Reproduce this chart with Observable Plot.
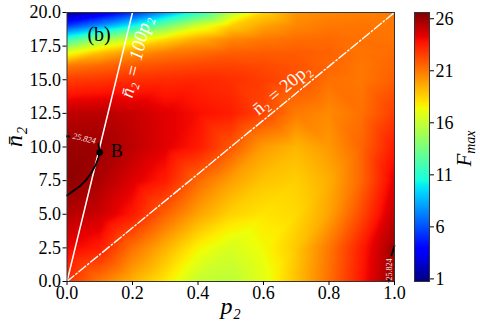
<!DOCTYPE html>
<html>
<head>
<meta charset="utf-8">
<script src="https://cdn.jsdelivr.net/npm/d3@7"></script>
<script src="https://cdn.jsdelivr.net/npm/@observablehq/plot@0.6"></script>
<style>
  body { margin: 0; background: #fff; }
  #wrap { display: flex; width: 480px; height: 328px; }
  #wrap svg { overflow: visible; }
  #wrap svg text, #wrap svg tspan { font-family: "Liberation Serif", "Times New Roman", "DejaVu Serif", serif !important; }
</style>
</head>
<body>
<div id="wrap"></div>
<script>
// ---------- data ----------
const pValues = [0, 0.1, 0.2, 0.3, 0.4, 0.5, 0.6, 0.7, 0.8, 0.9, 1.0];
const nValues = [0, 2.5, 5, 7.5, 10, 12.5, 15, 16, 17, 18, 19, 20];
// F_max estimated at (p2, n2) grid points; one row per n value
const fRows = [
  [23.0, 21.0, 19.4, 17.9, 16.0, 15.7, 16.9, 19.0, 21.2, 23.7, 26.2],
  [24.2, 23.5, 21.2, 19.4, 17.6, 16.6, 17.4, 18.8, 21.0, 23.5, 25.95],
  [25.4, 24.9, 23.6, 21.6, 19.8, 18.5, 18.0, 18.3, 19.8, 22.3, 25.1],
  [26.3, 25.6, 24.5, 23.5, 21.4, 19.9, 18.9, 18.6, 19.5, 21.5, 24.4],
  [26.0, 25.9, 25.2, 24.4, 23.6, 21.9, 20.0, 19.3, 20.1, 21.5, 23.6],
  [25.2, 25.3, 25.0, 24.4, 23.9, 23.5, 22.4, 20.9, 20.5, 21.2, 22.6],
  [22.6, 22.8, 23.0, 23.1, 23.2, 23.0, 22.6, 22.1, 21.2, 21.0, 21.7],
  [21.0, 21.5, 21.9, 22.2, 22.4, 22.5, 22.3, 22.0, 21.5, 21.0, 21.5],
  [17.0, 19.0, 20.2, 20.9, 21.3, 21.7, 21.8, 21.8, 21.6, 21.1, 21.3],
  [11.5, 14.5, 16.5, 18.3, 19.6, 20.6, 21.0, 21.3, 21.4, 21.2, 21.1],
  [ 5.5,  7.8, 10.3, 13.5, 16.5, 18.6, 19.8, 20.6, 21.0, 21.1, 21.0],
  [ 1.0,  2.8,  5.0,  8.0, 11.0, 15.5, 18.5, 20.2, 20.6, 20.8, 21.0]
];
const colorDomain = [0.75, 26.6];
const colorTicks = [1, 6, 11, 16, 21, 26];
const xTicks = [0, 0.2, 0.4, 0.6, 0.8, 1.0];
const yTicks = [0, 2.5, 5, 7.5, 10, 12.5, 15, 17.5, 20];
const refSlopes = [100, 20];              // n2 = 100 p2 , n2 = 20 p2
const refLabels = ["n\u0304\u2082 = 100p\u2082", "n\u0304\u2082 = 20p\u2082"];
const refLabelP = [0.211, 0.655];
const refLabelN = [16.7, 14.3];
const contourLevel = "25.824";
const contourSeg = [0, 0, 0, 0, 0, 0, 0, 0, 0, 1, 1, 2, 2, 3, 3, 3];
const contourP = [0, 0.02, 0.04, 0.06, 0.075, 0.088, 0.096, 0.1, 0.096, 0, 0.007, 0.982, 0.983, 0.991, 0.995, 1.0];
const contourN = [6.4, 6.75, 7.1, 7.6, 8.1, 8.7, 9.2, 9.6, 10.25, 10.8, 10.78, 0, 0.15, 1.95, 2.25, 2.65];
const contourLabelP = [0.053, 0.986];
const contourLabelN = [10.63, 0.9];
const pointB = { p: 0.1, n: 9.6, label: "B" };
const panelLabel = { p: 0.098, n: 18.35, label: "(b)" };

// ---------- helpers ----------
function jet(t) {
  t = Math.max(0, Math.min(1, t));
  const r = t < 0.35 ? 0 : t < 0.66 ? (t - 0.35) / 0.31 : t < 0.89 ? 1 : 1 - 0.5 * (t - 0.89) / 0.11;
  const g = t < 0.125 ? 0 : t < 0.375 ? (t - 0.125) / 0.25 : t < 0.64 ? 1 : t < 0.91 ? 1 - (t - 0.64) / 0.27 : 0;
  const b = t < 0.11 ? 0.5 + 0.5 * t / 0.11 : t < 0.34 ? 1 : t < 0.65 ? 1 - (t - 0.34) / 0.31 : 0;
  return `rgb(${Math.round(r * 255)},${Math.round(g * 255)},${Math.round(b * 255)})`;
}

const grid = nValues.flatMap((n, i) => pValues.map((p, j) => ({ p, n, F: fRows[i][j] })));
const refLines = refSlopes.flatMap((s, k) => [
  { k, p: 0, n: 0 },
  { k, p: Math.min(1, 20 / s), n: Math.min(1, 20 / s) * s }
]);
const contour = contourP.map((p, i) => ({ seg: contourSeg[i], p, n: contourN[i] }));

const W = 400, H = 328, mL = 66.5, mR = 6, mT = 12, mB = 47;
const frameW = W - mL - mR, frameH = H - mT - mB;
const angle = s => -Math.atan(s * (frameH / 20) / frameW) * 180 / Math.PI;
const serif = "Liberation Serif, Times New Roman, DejaVu Serif, serif";
const colorScale = { type: "linear", domain: colorDomain, interpolate: jet, clamp: true };

const refLabelData = refLabels.map((t, i) => ({ t, p: refLabelP[i], n: refLabelN[i], i }));
const contourLabelData = contourLabelP.map((p, i) => ({ p, n: contourLabelN[i], i }));

const main = Plot.plot({
  width: W, height: H,
  marginLeft: mL, marginRight: mR, marginTop: mT, marginBottom: mB,
  style: { fontFamily: serif, fontSize: "17px", color: "#000", background: "transparent", overflow: "visible" },
  x: { domain: [0, 1], label: null },
  y: { domain: [0, 20], label: null },
  color: colorScale,
  marks: [
    Plot.raster(grid, { x: "p", y: "n", fill: "F", interpolate: "barycentric", x1: 0, x2: 1, y1: 0, y2: 20 }),
    Plot.line(refLines.filter(d => d.k === 0), { x: "p", y: "n", stroke: "white", strokeWidth: 1.5 }),
    Plot.line(refLines.filter(d => d.k === 1), { x: "p", y: "n", stroke: "white", strokeWidth: 1.4, strokeDasharray: "9,2.4,1.5,2.4" }),
    Plot.line(contour, { x: "p", y: "n", z: "seg", stroke: "black", strokeWidth: 1.8 }),
    Plot.text(contourLabelData.filter(d => d.i === 0), { x: "p", y: "n", text: () => contourLevel, rotate: 13, fontSize: 8.5, fontStyle: "italic", fill: "#f4e8e8" }),
    Plot.text(contourLabelData.filter(d => d.i === 1), { x: "p", y: "n", text: () => contourLevel, rotate: -90, fontSize: 8, fill: "#f4e8e8" }),
    Plot.text(refLabelData.filter(d => d.i === 0), { x: "p", y: "n", text: "t", rotate: angle(refSlopes[0]), fontSize: 19, fontStyle: "italic", fill: "white" }),
    Plot.text(refLabelData.filter(d => d.i === 1), { x: "p", y: "n", text: "t", rotate: angle(refSlopes[1]), fontSize: 18.5, fill: "white" }),
    Plot.dot([pointB], { x: "p", y: "n", r: 3.3, fill: "black" }),
    Plot.text([pointB], { x: "p", y: "n", text: "label", dx: 11, dy: -1, textAnchor: "start", fontSize: 18, fill: "black" }),
    Plot.text([panelLabel], { x: "p", y: "n", text: "label", fontSize: 20, fill: "black" }),
    Plot.frame({ stroke: "#333", strokeWidth: 1 }),
    Plot.axisX({ ticks: xTicks, tickFormat: d3.format(".1f"), tickSize: 4, tickPadding: 1, fontSize: 18, label: null }),
    Plot.axisY({ ticks: yTicks, tickFormat: d3.format(".1f"), tickSize: 4, tickPadding: 2, fontSize: 18, label: null }),
    Plot.text(["p\u2082"], { text: d => d, frameAnchor: "bottom", dy: 32, fontSize: 24, fontStyle: "italic" }),
    Plot.text(["n\u0304\u2082"], { text: d => d, frameAnchor: "left", dx: -53, rotate: -90, fontSize: 24, fontStyle: "italic" })
  ]
});

const cb = Plot.plot({
  width: 80, height: H,
  marginLeft: 14, marginRight: 51, marginTop: mT, marginBottom: mB,
  style: { fontFamily: serif, fontSize: "17px", color: "#000", background: "transparent", overflow: "visible" },
  x: { domain: [0, 1], axis: null },
  y: { domain: colorDomain, label: null },
  color: colorScale,
  marks: [
    Plot.raster({ x1: 0, x2: 1, y1: colorDomain[0], y2: colorDomain[1], fill: (x, y) => y }),
    Plot.frame({ stroke: "#333", strokeWidth: 1 }),
    Plot.axisY({ anchor: "right", ticks: colorTicks, tickSize: 4, tickPadding: 2, tickFormat: d3.format("d"), fontSize: 18, label: null })
  ]
});

// colorbar title F_max (with subscript)
const lbl = d3.select(cb).append("text")
  .attr("transform", `translate(71, ${mT + frameH / 2 + 2}) rotate(-90)`)
  .attr("text-anchor", "middle")
  .attr("font-style", "italic")
  .attr("fill", "#000");
lbl.append("tspan").attr("font-size", 21).text("F");
lbl.append("tspan").attr("font-size", 14).attr("dy", "0.25em").text("max");

const wrap = document.getElementById("wrap");
wrap.appendChild(main);
wrap.appendChild(cb);
</script>
</body>
</html>
